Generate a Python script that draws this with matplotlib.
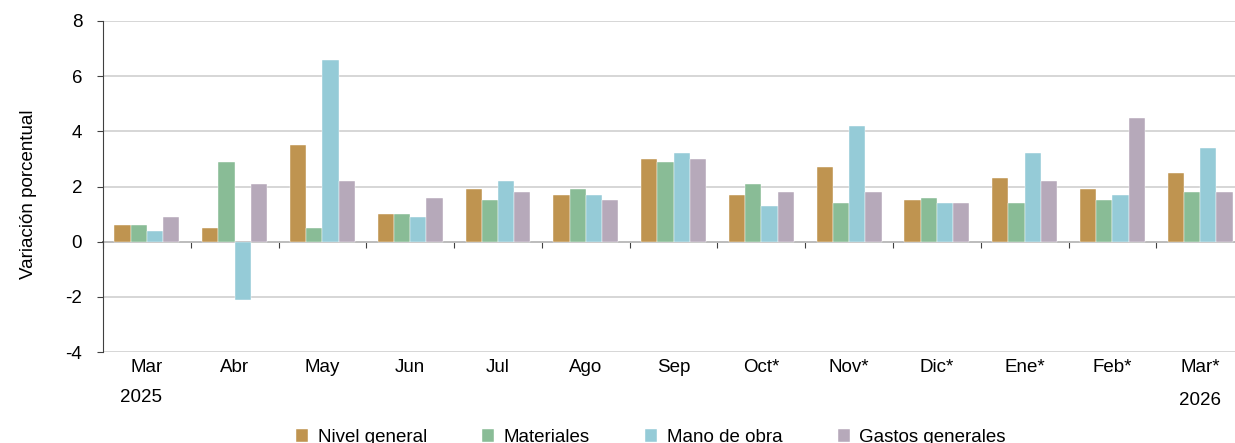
import numpy as np
import matplotlib
matplotlib.use("Agg")
import matplotlib.pyplot as plt
import matplotlib.transforms as mtransforms

plt.rcParams['font.family'] = ['Liberation Sans', 'DejaVu Sans']
plt.rcParams['axes.unicode_minus'] = False

meses = ["Mar", "Abr", "May", "Jun", "Jul", "Ago", "Sep", "Oct*", "Nov*", "Dic*", "Ene*", "Feb*", "Mar*"]
nivel_general = [0.6, 0.5, 3.5, 1.0, 1.9, 1.7, 3.0, 1.7, 2.7, 1.5, 2.3, 1.9, 2.5]
materiales = [0.6, 2.9, 0.5, 1.0, 1.5, 1.9, 2.9, 2.1, 1.4, 1.6, 1.4, 1.5, 1.8]
mano_de_obra = [0.4, -2.1, 6.6, 0.9, 2.2, 1.7, 3.2, 1.3, 4.2, 1.4, 3.2, 1.7, 3.4]
gastos_generales = [0.9, 2.1, 2.2, 1.6, 1.8, 1.5, 3.0, 1.8, 1.8, 1.4, 2.2, 4.5, 1.8]

series = [
    ("Nivel general", nivel_general, "#bf9450"),
    ("Materiales", materiales, "#89bc96"),
    ("Mano de obra", mano_de_obra, "#95cbd7"),
    ("Gastos generales", gastos_generales, "#b6a9ba"),
]

fs = 13.5

fig = plt.figure(figsize=(12.35, 4.43), dpi=100)
ax = fig.add_axes([0.0834, 0.2054, 0.924, 0.7472])

x = np.arange(len(meses))
w = 0.185
for i, (nombre, vals, color) in enumerate(series):
    ax.bar(x + (i - 1.5) * w, vals, width=w, color=color, label=nombre,
           edgecolor="white", linewidth=0.3, zorder=3)

ax.set_xlim(-0.5, len(meses) - 0.5)
ax.set_ylim(-4, 8)
ax.set_yticks([-4, -2, 0, 2, 4, 6, 8])
ax.yaxis.grid(True, color="#d0d0d0", linewidth=1.2, zorder=0)
ax.tick_params(axis='y', labelsize=fs, length=4, color="#404040", pad=11)

for s in ["top", "right", "bottom"]:
    ax.spines[s].set_visible(False)
ax.spines["left"].set_color("#404040")

# etiquetas de meses abajo
ax.set_xticks(x)
ax.set_xticklabels(meses, fontsize=fs)
ax.tick_params(axis='x', length=0, pad=5)

# eje en el cero con marcas entre categorias
eje0 = ax.secondary_xaxis(4 / 12)
eje0.set_xticks(np.arange(len(meses) + 1) - 0.5)
eje0.set_xticklabels([])
eje0.tick_params(axis='x', length=4, color="#404040", direction="out")
eje0.spines["bottom"].set_color("#404040")
eje0.spines["bottom"].set_linewidth(1.2)

trans = mtransforms.blended_transform_factory(ax.transData, ax.transAxes)
ax.text(x[0] - 0.07, -0.137, "2025", transform=trans, ha="center", va="center", fontsize=fs)
ax.text(x[-1], -0.145, "2026", transform=trans, ha="center", va="center", fontsize=fs)

ax.set_ylabel("Variación porcentual", fontsize=fs)
ax.yaxis.set_label_coords(-0.058, 0.477)

# la leyenda queda cortada por abajo, como en el original
fig.legend(loc="center", bbox_to_anchor=(0.527, 0.012), ncol=4, frameon=False,
           fontsize=fs, handlelength=0.65, handleheight=0.65, handletextpad=0.5,
           columnspacing=2.95)

fig.savefig("out.png", dpi=100)
